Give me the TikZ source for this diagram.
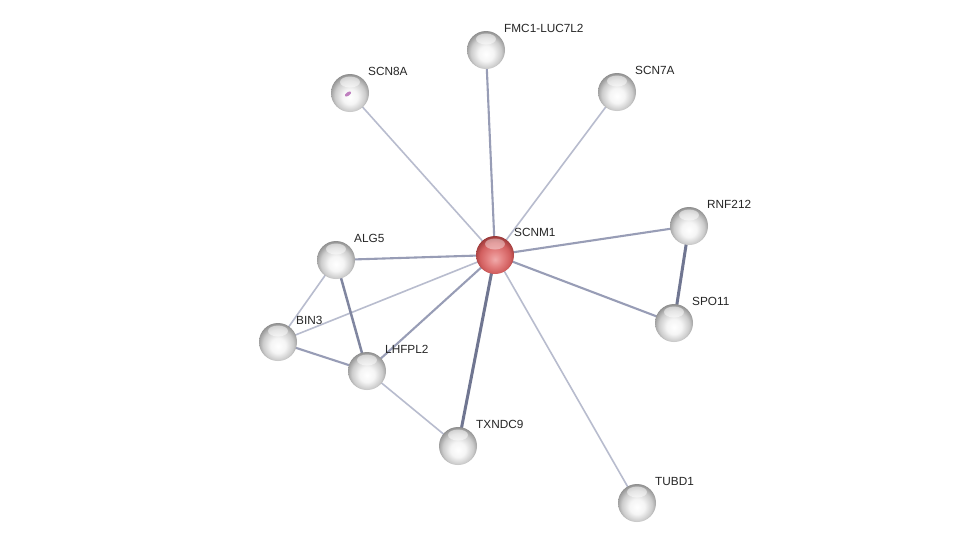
\documentclass[tikz,border=0pt]{standalone}
\usepackage{fontspec}
\setmainfont{Liberation Sans}
\begin{document}
\pgfdeclareradialshading{greyball}{\pgfpoint{0bp}{-6bp}}{color(0bp)=(white); color(10bp)=(white!96!black); color(20bp)=(white!80!black); color(27bp)=(white!58!black); color(31bp)=(white!48!black); color(50bp)=(white!48!black)}
\pgfdeclareradialshading{redball}{\pgfpoint{0bp}{-6bp}}{color(0bp)=(rgb,255:red,240;green,170;blue,170); color(10bp)=(rgb,255:red,228;green,130;blue,130); color(20bp)=(rgb,255:red,210;green,95;blue,95); color(27bp)=(rgb,255:red,160;green,60;blue,60); color(31bp)=(rgb,255:red,120;green,40;blue,40); color(50bp)=(rgb,255:red,120;green,40;blue,40)}
\begin{tikzpicture}[x=1pt,y=-1pt,
  prot/.style={circle, minimum size=38pt, inner sep=0pt, shading=greyball,
    path picture={\fill[white,opacity=0.5] ([yshift=-8pt]path picture bounding box.north) ellipse (10pt and 5.5pt);}},
  hub/.style={prot, shading=redball,
    path picture={\fill[white,opacity=0.4] ([yshift=-8pt]path picture bounding box.north) ellipse (10pt and 5.5pt);}},
  lab/.style={anchor=west, inner sep=0pt, font=\fontsize{11.8}{14}\selectfont, text=black!85},
  thin/.style={draw={rgb,255:red,184;green,188;blue,206}, line width=1.6pt},
  med/.style={draw={rgb,255:red,152;green,157;blue,182}, line width=2.1pt},
  thick/.style={draw={rgb,255:red,112;green,118;blue,145}, line width=3pt}
]
\useasboundingbox (0,0) rectangle (975,549);
\fill[white] (0,0) rectangle (975,549);
% coordinates of nodes
\coordinate (cSCNM1) at (495,255);
\coordinate (cFMC) at (486,50);
\coordinate (cSCN8A) at (350,93);
\coordinate (cSCN7A) at (617,92);
\coordinate (cRNF) at (689,226);
\coordinate (cSPO) at (674,323);
\coordinate (cALG) at (336,260);
\coordinate (cBIN) at (278,342);
\coordinate (cLHF) at (367,371);
\coordinate (cTXN) at (458,446);
\coordinate (cTUB) at (637,503);
% edges
\draw[med] (cSCNM1) -- (cFMC);
\draw[thin] (cSCNM1) -- (cSCN8A);
\draw[thin] (cSCNM1) -- (cSCN7A);
\draw[med] (cSCNM1) -- (cRNF);
\draw[med] (cSCNM1) -- (cSPO);
\draw[med] (cSCNM1) -- (cALG);
\draw[thin] (cSCNM1) -- (cBIN);
\draw[med] (cSCNM1) -- (cLHF);
\draw[thick] (cSCNM1) -- (cTXN);
\draw[thin] (cSCNM1) -- (cTUB);
\draw[thick] (cRNF) -- (cSPO);
\draw[thin] (cALG) -- (cBIN);
\draw[thick, draw={rgb,255:red,128;green,134;blue,160}, line width=2.5pt] (cALG) -- (cLHF);
\draw[med] (cBIN) -- (cLHF);
\draw[thin] (cLHF) -- (cTXN);
% nodes
\node[hub] (SCNM1) at (cSCNM1) {};
\node[prot] (FMC) at (cFMC) {};
\node[prot] (SCN8A) at (cSCN8A) {};
\node[prot] (SCN7A) at (cSCN7A) {};
\node[prot] (RNF) at (cRNF) {};
\node[prot] (SPO) at (cSPO) {};
\node[prot] (ALG) at (cALG) {};
\node[prot] (BIN) at (cBIN) {};
\node[prot] (LHF) at (cLHF) {};
\node[prot] (TXN) at (cTXN) {};
\node[prot] (TUB) at (cTUB) {};
% small mark on SCN8A
\fill[violet!50, rotate around={35:(348,94)}] (348,94) ellipse (3.6pt and 1.8pt);
% labels
\node[lab] (lSCNM1) at ([xshift=19pt,yshift=23pt]SCNM1.center) {SCNM1};
\node[lab] (lFMC) at ([xshift=18pt,yshift=22pt]FMC.center) {FMC1-LUC7L2};
\node[lab] (lSCN8A) at ([xshift=18pt,yshift=22pt]SCN8A.center) {SCN8A};
\node[lab] (lSCN7A) at ([xshift=18pt,yshift=22pt]SCN7A.center) {SCN7A};
\node[lab] (lRNF) at ([xshift=18pt,yshift=22pt]RNF.center) {RNF212};
\node[lab] (lSPO) at ([xshift=18pt,yshift=22pt]SPO.center) {SPO11};
\node[lab] (lALG) at ([xshift=18pt,yshift=22pt]ALG.center) {ALG5};
\node[lab] (lBIN) at ([xshift=18pt,yshift=22pt]BIN.center) {BIN3};
\node[lab] (lLHF) at ([xshift=18pt,yshift=22pt]LHF.center) {LHFPL2};
\node[lab] (lTXN) at ([xshift=18pt,yshift=22pt]TXN.center) {TXNDC9};
\node[lab] (lTUB) at ([xshift=18pt,yshift=22pt]TUB.center) {TUBD1};
\end{tikzpicture}
\end{document}
